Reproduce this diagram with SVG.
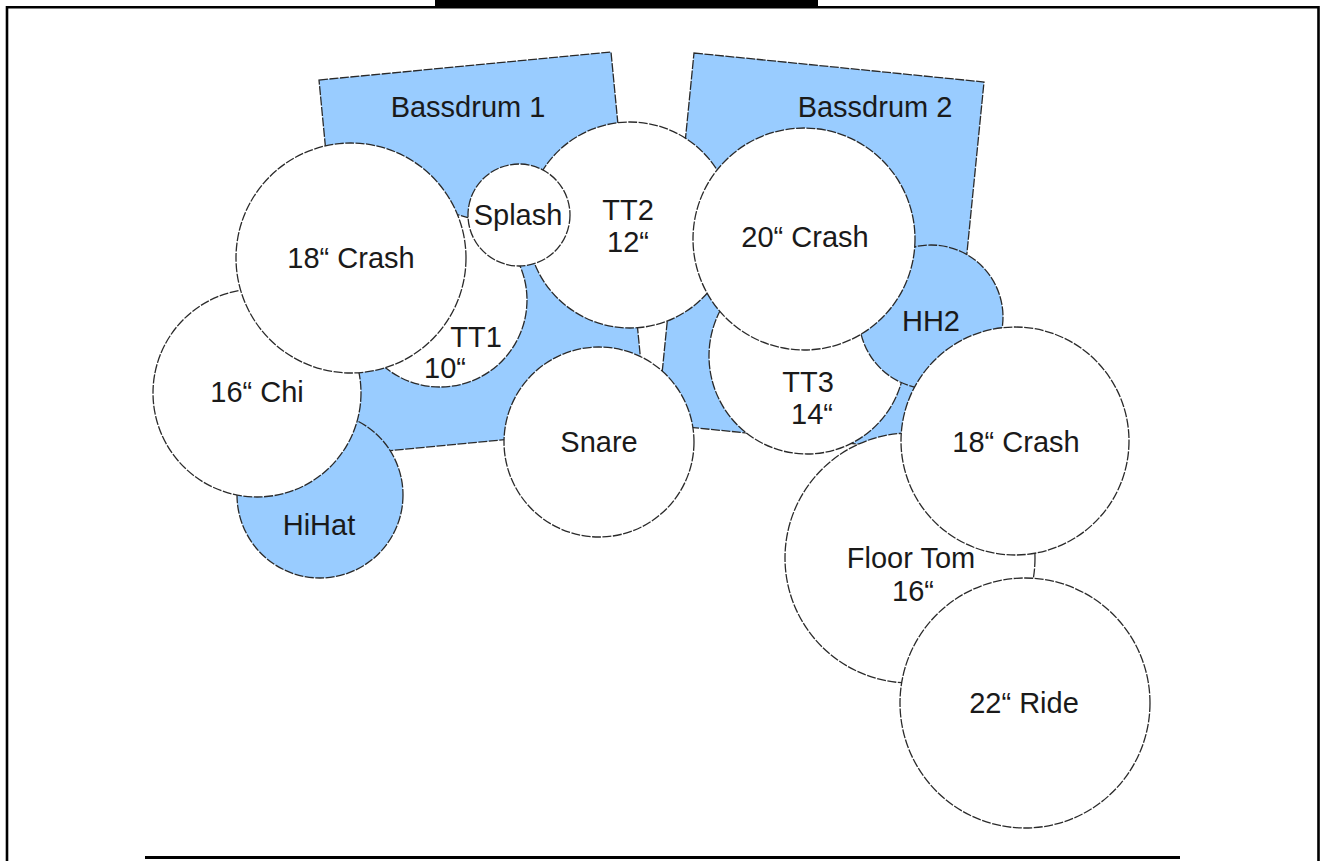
<svg xmlns="http://www.w3.org/2000/svg" width="1322" height="861" viewBox="0 0 1322 861">
<style>
.w{fill:#ffffff;stroke:#2a2a2a;stroke-width:1.3;stroke-dasharray:9 1.5}
.b{fill:#99ccff;stroke:#2a2a2a;stroke-width:1.3;stroke-dasharray:9 1.5}
text{font-family:"Liberation Sans",Arial,Helvetica,sans-serif;font-size:29px;fill:#1a1a1a;text-anchor:middle}
</style>
<rect x="0" y="0" width="1322" height="861" fill="#ffffff"/>
<g id="frame">
<rect x="435" y="0" width="383" height="7.5" fill="#000"/>
<path d="M7,861 V7.2 H1318.5 V861" fill="none" stroke="#000" stroke-width="2.6"/>
<line x1="145" y1="857.5" x2="1180" y2="857.5" stroke="#000" stroke-width="3"/>
</g>
<g id="connectors"></g>
<g id="bassdrum1"><polygon class="b" points="319,80 611,52 647,426 355,454"/><text x="468" y="117">Bassdrum 1</text></g>
<g id="bassdrum2"><polygon class="b" points="694,53 984,82 947,453 657,424"/><text x="875" y="117">Bassdrum 2</text></g>
<g id="hihat"><circle class="b" cx="320" cy="495" r="83"/><text x="319" y="535">HiHat</text></g>
<g id="chi16"><circle class="w" cx="257" cy="393" r="104"/><text x="257" y="402">16“ Chi</text></g>
<g id="tt1"><circle class="w" cx="440" cy="300" r="87"/><text x="476" y="347">TT1</text><text x="445" y="378">10“</text></g>
<g id="crash18a"><circle class="w" cx="351" cy="258" r="115"/><text x="351" y="268">18“ Crash</text></g>
<g id="tt2"><circle class="w" cx="630" cy="225" r="103"/><text x="628" y="220">TT2</text><text x="628" y="252">12“</text></g>
<g id="splash"><circle class="w" cx="519" cy="215" r="51"/><text x="518" y="225">Splash</text></g>
<g id="snare"><circle class="w" cx="599" cy="442" r="95"/><text x="599" y="452">Snare</text></g>
<g id="tt3"><circle class="w" cx="807" cy="356" r="98"/><text x="808" y="392">TT3</text><text x="812" y="424">14“</text></g>
<g id="hh2"><circle class="b" cx="931" cy="317" r="72"/><text x="931" y="331">HH2</text></g>
<g id="crash20"><circle class="w" cx="804" cy="239" r="111"/><text x="805" y="247">20“ Crash</text></g>
<g id="floortom"><circle class="w" cx="910" cy="558" r="125"/><text x="911" y="568">Floor Tom</text><text x="913" y="601">16“</text></g>
<g id="crash18b"><circle class="w" cx="1015" cy="441" r="114"/><text x="1016" y="452">18“ Crash</text></g>
<g id="ride22"><circle class="w" cx="1025" cy="703" r="125"/><text x="1024" y="713">22“ Ride</text></g>
</svg>
